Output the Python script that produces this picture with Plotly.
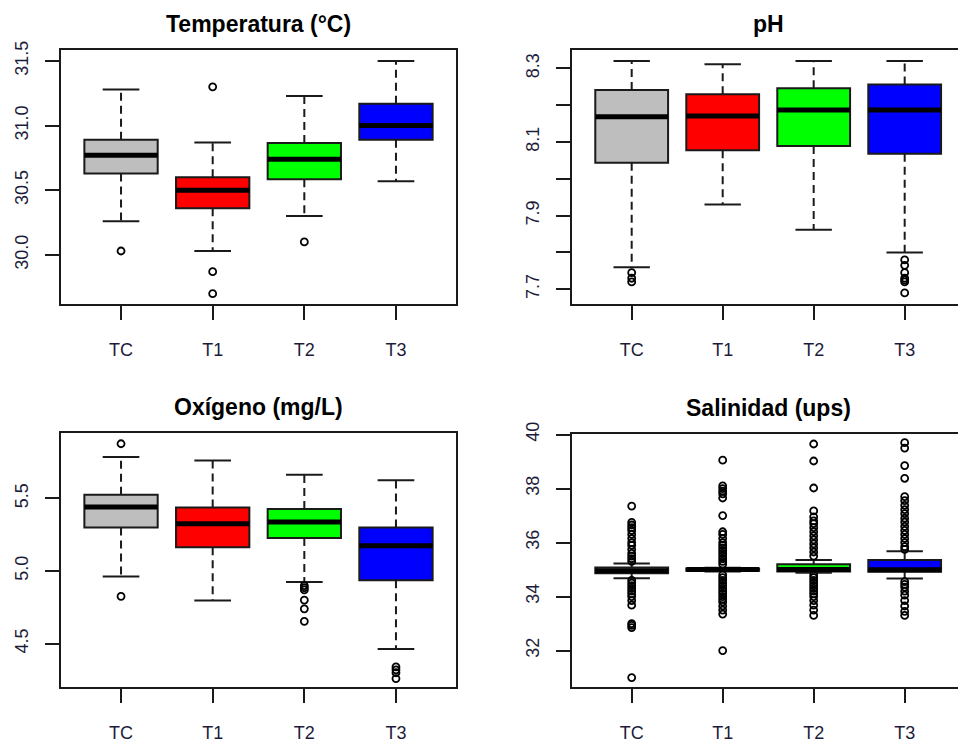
import plotly.graph_objects as go

groups = ["TC", "T1", "T2", "T3"]
fills = ["#BEBEBE", "#FF0000", "#00FF00", "#0000FF"]

# Temperatura (°C)
temp_lower = [30.26, 30.03, 30.30, 30.57]
temp_q1 = [30.63, 30.36, 30.585, 30.89]
temp_median = [30.77, 30.50, 30.74, 31.00]
temp_q3 = [30.89, 30.60, 30.865, 31.17]
temp_upper = [31.28, 30.87, 31.23, 31.50]
temp_out = [[30.03], [31.30, 29.87, 29.70], [30.10], []]

# pH
ph_lower = [7.76, 7.93, 7.862, 7.80]
ph_q1 = [8.044, 8.078, 8.089, 8.068]
ph_median = [8.169, 8.171, 8.187, 8.187]
ph_q3 = [8.241, 8.230, 8.246, 8.256]
ph_upper = [8.32, 8.311, 8.32, 8.32]
ph_out = [[7.745, 7.73, 7.72], [], [], [7.78, 7.765, 7.745, 7.73, 7.725, 7.72, 7.69]]

# Oxígeno (mg/L)
ox_lower = [4.963, 4.798, 4.924, 4.463]
ox_q1 = [5.30, 5.163, 5.227, 4.936]
ox_median = [5.44, 5.326, 5.337, 5.174]
ox_q3 = [5.525, 5.438, 5.427, 5.30]
ox_upper = [5.784, 5.761, 5.663, 5.624]
ox_out = [[5.876, 4.826], [], [4.90, 4.885, 4.87, 4.80, 4.74, 4.654], [4.34, 4.32, 4.30, 4.26]]

# Salinidad (ups)
sal_lower = [34.68, 34.93, 34.88, 34.67]
sal_q1 = [34.86, 34.96, 34.93, 34.92]
sal_median = [34.96, 35.00, 35.00, 34.99]
sal_q3 = [35.08, 35.04, 35.20, 35.35]
sal_upper = [35.22, 35.07, 35.35, 35.68]
sal_out = [
    [37.35, 36.75, 36.65, 36.55, 36.45, 36.3, 36.15, 36.0, 35.9, 35.75, 35.6, 35.5, 35.4, 35.3,
     34.6, 34.5, 34.4, 34.3, 34.2, 34.1, 34.0, 33.85, 33.68, 33.0, 32.93, 32.85, 31.0],
    [39.05, 38.1, 38.0, 37.9, 37.8, 37.65, 37.0, 36.4, 36.3, 36.15, 36.0, 35.9, 35.8, 35.7, 35.6,
     35.5, 35.4, 35.3, 35.2, 34.8, 34.7, 34.6, 34.5, 34.4, 34.3, 34.2, 34.1, 34.0, 33.9, 33.8,
     33.65, 33.5, 33.35, 32.0],
    [39.65, 39.02, 38.02, 37.17, 36.95, 36.8, 36.7, 36.55, 36.4, 36.25, 36.1, 35.95, 35.8, 35.65,
     35.5, 34.8, 34.7, 34.6, 34.5, 34.4, 34.3, 34.2, 34.1, 34.0, 33.85, 33.68, 33.5, 33.3],
    [39.7, 39.5, 38.85, 38.38, 37.7, 37.55, 37.38, 37.22, 37.07, 36.9, 36.76, 36.6, 36.45, 36.3,
     36.15, 36.0, 35.85, 35.75, 34.55, 34.45, 34.35, 34.2, 34.05, 33.85, 33.65, 33.45, 33.3],
]

titles = ["Temperatura (°C)", "pH", "Oxígeno (mg/L)", "Salinidad (ups)"]

W, H = 958, 744
INK = "#1a1a1a"
FONT = "Liberation Sans, Arial, sans-serif"

panels = [
    dict(lo=temp_lower, q1=temp_q1, med=temp_median, q3=temp_q3, hi=temp_upper, out=temp_out,
         px=(61, 456), py=(50, 304), xr=[-0.655, 3.655], yr=[29.62, 31.585],
         tv=[30.0, 30.5, 31.0, 31.5], tt=["30.0", "30.5", "31.0", "31.5"], mirror_y=True),
    dict(lo=ph_lower, q1=ph_q1, med=ph_median, q3=ph_q3, hi=ph_upper, out=ph_out,
         px=(572, 958), py=(50, 304), xr=[-0.656, 3.586], yr=[7.66, 8.35],
         tv=[7.7, 7.8, 7.9, 8.0, 8.1, 8.2, 8.3], tt=["7.7", "", "7.9", "", "8.1", "", "8.3"], mirror_y=False),
    dict(lo=ox_lower, q1=ox_q1, med=ox_median, q3=ox_q3, hi=ox_upper, out=ox_out,
         px=(61, 456), py=(433, 687), xr=[-0.655, 3.655], yr=[4.202, 5.95],
         tv=[4.5, 5.0, 5.5], tt=["4.5", "5.0", "5.5"], mirror_y=True),
    dict(lo=sal_lower, q1=sal_q1, med=sal_median, q3=sal_q3, hi=sal_upper, out=sal_out,
         px=(572, 958), py=(434, 687), xr=[-0.656, 3.586], yr=[30.65, 40.02],
         tv=[32, 34, 36, 38, 40], tt=["32", "34", "36", "38", "40"], mirror_y=False),
]

fig = go.Figure()
layout = dict(
    width=W, height=H, margin=dict(l=0, r=0, t=0, b=0),
    paper_bgcolor="white", plot_bgcolor="white", showlegend=False,
    template="none", font=dict(family=FONT, color=INK), annotations=[],
)

BOX_W = 0.8
CAP_W = 0.4

for k, p in enumerate(panels):
    n = "" if k == 0 else str(k + 1)
    xa, ya = "x" + n, "y" + n
    idx = list(range(len(groups)))

    fig.add_trace(go.Bar(
        x=idx, y=[b - a for a, b in zip(p["q1"], p["q3"])], base=p["q1"], width=BOX_W,
        marker=dict(color=fills, line=dict(color=INK, width=2)),
        xaxis=xa, yaxis=ya, hoverinfo="skip"))

    wx, wy = [], []
    cx, cy = [], []
    mx, my = [], []
    ox, oy = [], []
    for i in idx:
        wx += [i, i, None, i, i, None]
        wy += [p["q3"][i], p["hi"][i], None, p["q1"][i], p["lo"][i], None]
        cx += [i - CAP_W / 2, i + CAP_W / 2, None, i - CAP_W / 2, i + CAP_W / 2, None]
        cy += [p["hi"][i], p["hi"][i], None, p["lo"][i], p["lo"][i], None]
        mx += [i - BOX_W / 2, i + BOX_W / 2, None]
        my += [p["med"][i], p["med"][i], None]
        ox += [i] * len(p["out"][i])
        oy += p["out"][i]

    fig.add_trace(go.Scatter(x=wx, y=wy, mode="lines", line=dict(color=INK, width=2, dash="8px,5px"),
                             xaxis=xa, yaxis=ya, hoverinfo="skip"))
    fig.add_trace(go.Scatter(x=cx, y=cy, mode="lines", line=dict(color=INK, width=2),
                             xaxis=xa, yaxis=ya, hoverinfo="skip"))
    fig.add_trace(go.Scatter(x=mx, y=my, mode="lines", line=dict(color="black", width=5),
                             xaxis=xa, yaxis=ya, hoverinfo="skip"))
    fig.add_trace(go.Scatter(x=ox, y=oy, mode="markers",
                             marker=dict(symbol="circle-open", size=7, color="black", line=dict(width=1.8)),
                             xaxis=xa, yaxis=ya, hoverinfo="skip"))

    x0, x1 = p["px"]
    y0, y1 = p["py"]
    layout["xaxis" + n] = dict(
        domain=[x0 / W, x1 / W], range=p["xr"], anchor=ya,
        tickmode="array", tickvals=idx, ticktext=groups,
        ticks="outside", ticklen=14, tickwidth=2, tickcolor=INK,
        showline=True, linecolor=INK, linewidth=2, mirror=True,
        showgrid=False, zeroline=False, automargin=False,
        tickfont=dict(size=18, family=FONT, color="#1c1c3a"), ticklabelstandoff=14,
    )
    layout["yaxis" + n] = dict(
        domain=[1 - y1 / H, 1 - y0 / H], range=p["yr"], anchor=xa,
        tickmode="array", tickvals=p["tv"], ticktext=p["tt"], tickangle=-90,
        ticks="outside", ticklen=14, tickwidth=2, tickcolor=INK,
        showline=True, linecolor=INK, linewidth=2, mirror=p["mirror_y"],
        showgrid=False, zeroline=False, automargin=False,
        tickfont=dict(size=18, family=FONT, color="#1c1c3a"), ticklabelstandoff=10,
    )
    layout["annotations"].append(dict(
        text="<b>" + titles[k] + "</b>", xref="paper", yref="paper",
        x=((x0 + (x1 if x1 < W else 965)) / 2) / W, y=1 - (y0 - 26) / H,
        xanchor="center", yanchor="middle", showarrow=False,
        font=dict(size=23, family=FONT, color="black"),
    ))

fig.update_layout(**layout)
fig.write_html("out.html")
